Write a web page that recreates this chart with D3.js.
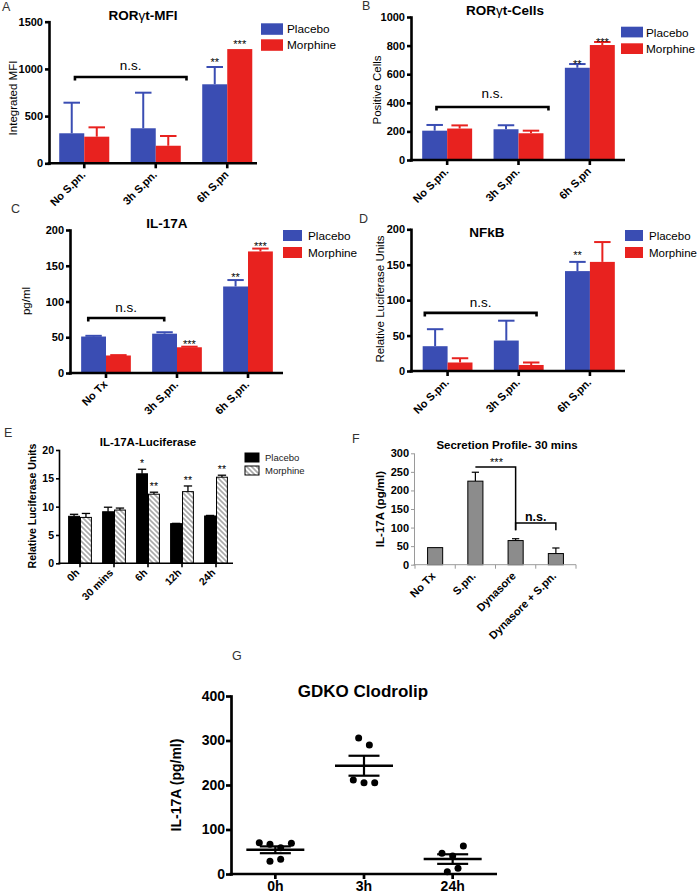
<!DOCTYPE html>
<html><head><meta charset="utf-8">
<script src="https://cdn.jsdelivr.net/npm/d3@7"></script>
<style>body{margin:0;background:#fff}svg{display:block}</style>
</head><body><svg id="fig" width="700" height="895"></svg>
<script>
// ---------------- DATA ----------------
const catsA = ["No S.pn.", "3h S.pn.", "6h S.pn"];
const placeboA = [318, 371, 837];
const placeboErrA = [324, 377, 183];
const morphineA = [282, 186, 1210];
const morphineErrA = [99, 103, 0];
const starsPlaceboA = ["", "", "**"];
const starsMorphineA = ["", "", "***"];
const ticksA = [0, 500, 1000, 1500];

const catsB = ["No S.pn.", "3h S.pn.", "6h S.pn"];
const placeboB = [205, 215, 645];
const placeboErrB = [40, 28, 26];
const morphineB = [220, 187, 804];
const morphineErrB = [22, 18, 21];
const starsPlaceboB = ["", "", "**"];
const starsMorphineB = ["", "", "***"];
const ticksB = [0, 200, 400, 600, 800, 1000];

const catsC = ["No Tx", "3h S.pn.", "6h S.pn."];
const placeboC = [51, 55, 121];
const placeboErrC = [1, 2, 9];
const morphineC = [24.5, 36, 170];
const morphineErrC = [0.5, 0.8, 4];
const starsPlaceboC = ["", "", "**"];
const starsMorphineC = ["", "***", "***"];
const ticksC = [0, 50, 100, 150, 200];

const catsD = ["No S.pn.", "3h S.pn.", "6h S.pn."];
const placeboD = [35, 43, 141];
const placeboErrD = [24, 28, 13];
const morphineD = [12, 8.5, 154];
const morphineErrD = [6, 3.5, 28];
const starsPlaceboD = ["", "", "**"];
const starsMorphineD = ["", "", ""];
const ticksD = [0, 50, 100, 150, 200];

const catsE = ["0h", "30 mins", "6h", "12h", "24h"];
const placeboE = [8.3, 9.1, 15.8, 7.0, 8.35];
const placeboErrE = [0.35, 0.8, 0.8, 0.05, 0.1];
const morphineE = [8.1, 9.4, 12.2, 12.65, 15.2];
const morphineErrE = [0.7, 0.35, 0.35, 1.0, 0.35];
const starsPlaceboE = ["", "", "*", "", ""];
const starsMorphineE = ["", "", "**", "**", "**"];
const ticksE = [0, 5, 10, 15, 20];

const catsF = ["No Tx", "S.pn.", "Dynasore", "Dynasore + S.pn."];
const valuesF = [46, 225, 65, 30];
const errF = [0, 24, 5, 15];
const ticksF = [0, 50, 100, 150, 200, 250, 300];

const catsG = ["0h", "3h", "24h"];
const pointsG0h = [70, 67, 59, 69, 28.5, 33];
const pointsG3h = [305.6, 290, 211, 205, 205];
const pointsG24h = [46.4, 40.4, 63, 5.2, 12.7];
const ticksG = [0, 100, 200, 300, 400];

const seriesNames = ["Placebo", "Morphine"];

// ---------------- DRAWING ----------------
const FONT = '"Liberation Sans", Arial, Helvetica, sans-serif';
const BLUE = "#3a4db3", RED = "#e8221f";
const svg = d3.select("#fig").attr("font-family", FONT);

const defs = svg.append("defs");
const pat = defs.append("pattern").attr("id", "hatch").attr("patternUnits", "userSpaceOnUse")
  .attr("width", 5).attr("height", 5);
pat.append("rect").attr("width", 5).attr("height", 5).attr("fill", "#fff");
pat.append("path").attr("d", "M-1,-1L6,6M-1,4L1,6M4,-1L6,1").attr("stroke", "#a9a9a9").attr("stroke-width", 1.6);

function txt(g, x, y, s, o = {}) {
  const t = g.append("text").attr("x", x).attr("y", y)
    .attr("font-size", o.size || 12).attr("font-weight", o.bold ? "bold" : "normal")
    .attr("text-anchor", o.anchor || "start").attr("fill", o.fill || "#000");
  if (s.includes("γ")) {
    const parts = s.split("γ");
    t.append("tspan").text(parts[0]);
    t.append("tspan").attr("font-weight", "normal").text("γ");
    t.append("tspan").text(parts[1]);
  } else t.text(s);
  if (o.rotate) t.attr("transform", `rotate(${o.rotate},${x},${y})`);
  return t;
}

function barPanel(o) {
  const g = svg.append("g");
  const x = d3.scaleBand().domain(o.cats).range(o.band).paddingInner(o.pad).paddingOuter(o.pad / 2);
  const x1 = d3.scaleBand().domain(d3.range(o.series.length)).range([0, x.bandwidth()]);
  const y = d3.scaleLinear().domain([0, o.max]).range([o.y0, o.y1]);
  const bw = x1.bandwidth();

  o.series.forEach((s, si) => {
    const rows = o.cats.map((c, i) => ({ c, v: s.values[i], e: s.errs[i], star: s.stars ? s.stars[i] : "" }));
    const sg = g.append("g");
    const withErr = rows.filter(d => d.e > 0);
    sg.selectAll("line.eb").data(withErr).join("line").attr("class", "eb")
      .attr("x1", d => x(d.c) + x1(si) + bw / 2).attr("x2", d => x(d.c) + x1(si) + bw / 2)
      .attr("y1", d => y(d.v)).attr("y2", d => y(d.v + d.e))
      .attr("stroke", s.errColor).attr("stroke-width", o.ebw);
    sg.selectAll("line.cap").data(withErr).join("line").attr("class", "cap")
      .attr("x1", d => x(d.c) + x1(si) + bw / 2 - bw * o.cap / 2)
      .attr("x2", d => x(d.c) + x1(si) + bw / 2 + bw * o.cap / 2)
      .attr("y1", d => y(d.v + d.e)).attr("y2", d => y(d.v + d.e))
      .attr("stroke", s.errColor).attr("stroke-width", o.ebw);
    sg.selectAll("rect").data(rows).join("rect")
      .attr("x", d => x(d.c) + x1(si) + (s.stroke ? 0.5 : 0)).attr("y", d => y(d.v))
      .attr("width", bw - (s.stroke ? 1 : 0)).attr("height", d => y(0) - y(d.v))
      .attr("fill", s.fill).attr("stroke", s.stroke || "none").attr("stroke-width", s.stroke ? 1 : 0);
    sg.selectAll("text").data(rows.filter(d => d.star)).join("text")
      .attr("x", d => x(d.c) + x1(si) + bw / 2).attr("y", d => y(d.v + d.e) + (o.starDy || 0))
      .attr("text-anchor", "middle").attr("font-size", o.starSize).attr("fill", "#000").text(d => d.star);
  });

  const ya = g.append("g").attr("transform", `translate(${o.axisX},0)`)
    .call(d3.axisLeft(y).tickValues(o.ticks).tickSize(o.tickLen).tickSizeOuter(0).tickPadding(o.tickPad).tickFormat(d3.format("d")));
  ya.attr("font-family", FONT).attr("font-size", o.tickFont).attr("font-weight", "bold");
  ya.select(".domain").attr("stroke", o.axisColor).attr("stroke-width", o.lw).attr("stroke-linecap", "square");
  ya.selectAll(".tick line").attr("stroke", o.axisColor).attr("stroke-width", o.lw);
  ya.selectAll(".tick text").attr("fill", "#000");
  const xa = g.append("g").attr("transform", `translate(0,${o.y0})`)
    .call(d3.axisBottom(x).tickSize(o.xTickLen).tickSizeOuter(0));
  xa.attr("font-family", FONT).attr("font-size", o.xFont).attr("font-weight", "bold");
  xa.select(".domain").remove();
  xa.append("line").attr("x1", o.axisX - o.lw / 2).attr("x2", o.axisEnd).attr("y1", 0).attr("y2", 0)
    .attr("stroke", o.axisColor).attr("stroke-width", o.lw);
  if (o.boundaryTicks) {
    xa.selectAll(".tick line").remove();
    xa.selectAll("line.bt").data(d3.range(o.cats.length + 1)).join("line").attr("class", "bt")
      .attr("x1", i => o.band[0] + i * x.step()).attr("x2", i => o.band[0] + i * x.step())
      .attr("y1", 0).attr("y2", o.xTickLen).attr("stroke", o.axisColor).attr("stroke-width", o.lw);
  } else {
    xa.selectAll(".tick line").attr("stroke", o.axisColor).attr("stroke-width", o.lw);
  }
  xa.selectAll(".tick text").attr("x", 0).attr("y", 0).attr("dy", 0).attr("fill", "#000")
    .attr("text-anchor", "end").attr("transform", `translate(${o.lx},${o.ly}) rotate(-45)`);

  txt(g, o.title[0], o.title[1], o.title[2], { size: o.title[3], bold: true, anchor: "middle" });
  txt(g, o.ylab[0], o.ylab[1], o.ylab[2], { size: o.ylab[3], bold: o.ylab[4], anchor: "middle", rotate: -90 });
  txt(g, o.letter[0], o.letter[1], o.letter[2], { size: 12.5, fill: "#333" });

  if (o.legend) {
    const L = o.legend;
    o.series.forEach((s, si) => {
      g.append("rect").attr("x", L.x).attr("y", L.y + si * L.dy).attr("width", L.w).attr("height", L.h)
        .attr("fill", s.fill).attr("stroke", s.stroke || "none").attr("stroke-width", s.stroke ? 1 : 0);
      txt(g, L.x + L.w + L.gap, L.y + si * L.dy + L.tdy, seriesNames[si], { size: L.size, fill: L.color || "#000" });
    });
  }
  return { g, x, y };
}

function nsBracket(p, o, from, to, value, label, lw, dyText, size) {
  const pos = i => o.band[0] + (i + 0.5) * p.x.step();
  const yy = p.y(value), xa = pos(from), xb = pos(to);
  p.g.append("path").attr("d", `M${xa},${yy + 3.5}V${yy}H${xb}V${yy + 3.5}`)
    .attr("fill", "none").attr("stroke", "#000").attr("stroke-width", lw);
  txt(p.g, (xa + xb) / 2, yy - dyText, label, { size, anchor: "middle" });
}

const common = { pad: 0.3, lw: 2.6, axisColor: "#000", tickLen: 4, tickPad: 2, tickFont: 11, xFont: 11, xTickLen: 5,
  lx: 2, ly: 12, ebw: 2, cap: 0.66, starSize: 11 };

// Panel A
const oA = Object.assign({}, common, {
  cats: catsA, max: 1500, ticks: ticksA, band: [48.5, 263], axisX: 49, axisEnd: 257, y0: 163.3, y1: 21.7,
  series: [
    { values: placeboA, errs: placeboErrA, stars: starsPlaceboA, fill: BLUE, errColor: BLUE },
    { values: morphineA, errs: morphineErrA, stars: starsMorphineA, fill: RED, errColor: RED }],
  starDy: -1,
  title: [143, 19.5, "RORγt-MFI", 13.5], ylab: [17, 98, "Integrated MFI", 11.5, false], letter: [2, 11, "A"],
  legend: { x: 261, y: 23.3, w: 22, h: 11.5, dy: 16, gap: 4, tdy: 10, size: 11.8 }
});
const pA = barPanel(oA);
nsBracket(pA, oA, -0.13, 1.43, 914, "n.s.", 2.6, 7, 13.5);

// Panel B
const oB = Object.assign({}, common, {
  cats: catsB, max: 1000, ticks: ticksB, band: [411.5, 625.5], axisX: 411, axisEnd: 625, y0: 160, y1: 17,
  series: [
    { values: placeboB, errs: placeboErrB, stars: starsPlaceboB, fill: BLUE, errColor: BLUE },
    { values: morphineB, errs: morphineErrB, stars: starsMorphineB, fill: RED, errColor: RED }],
  starDy: 4,
  title: [505, 14.5, "RORγt-Cells", 13.5], ylab: [381, 90, "Positive Cells", 11.5, false], letter: [362, 10, "B"],
  legend: { x: 621, y: 26.7, w: 22, h: 10.7, dy: 16.6, gap: 3, tdy: 10, size: 11.8 }
});
const pB = barPanel(oB);
nsBracket(pB, oB, -0.15, 1.42, 371, "n.s.", 2.6, 9, 13.5);

// Panel C
const oC = Object.assign({}, common, {
  cats: catsC, max: 200, ticks: ticksC, band: [70.5, 283.5], axisX: 70, axisEnd: 283, y0: 373, y1: 230,
  series: [
    { values: placeboC, errs: placeboErrC, stars: starsPlaceboC, fill: BLUE, errColor: BLUE },
    { values: morphineC, errs: morphineErrC, stars: starsMorphineC, fill: RED, errColor: RED }],
  starDy: 1,
  title: [167, 228, "IL-17A", 13.5], ylab: [30, 301, "pg/ml", 11.5, false], letter: [11, 213, "C"],
  legend: { x: 283, y: 230, w: 19, h: 11, dy: 17, gap: 6, tdy: 10, size: 11.8 }
});
const pC = barPanel(oC);
nsBracket(pC, oC, -0.25, 0.82, 77, "n.s.", 2.6, 6, 13.5);

// Panel D
const oD = Object.assign({}, common, {
  cats: catsD, max: 200, ticks: ticksD, band: [412, 625.5], axisX: 411, axisEnd: 625, y0: 371, y1: 229.3,
  series: [
    { values: placeboD, errs: placeboErrD, stars: starsPlaceboD, fill: BLUE, errColor: BLUE },
    { values: morphineD, errs: morphineErrD, stars: starsMorphineD, fill: RED, errColor: RED }],
  starDy: -3,
  title: [487, 237, "NFkB", 13.5], ylab: [384, 299, "Relative Luciferase Units", 11.5, false], letter: [359, 223, "D"],
  legend: { x: 625, y: 230, w: 18, h: 11, dy: 17, gap: 6, tdy: 10, size: 11.5 }
});
const pD = barPanel(oD);
nsBracket(pD, oD, -0.32, 1.25, 82, "n.s.", 2.6, 6, 13.5);

// Panel E
const oE = Object.assign({}, common, {
  cats: catsE, max: 20, ticks: ticksE, band: [63, 233], axisX: 59, axisEnd: 233, y0: 563.3, y1: 450,
  pad: 0.3, lw: 1.6, tickLen: 3, tickPad: 2, tickFont: 10.5, xFont: 10.5, xTickLen: 4, lx: 0, ly: 10,
  ebw: 1.3, cap: 0.7, starSize: 10.5, starDy: -2,
  series: [
    { values: placeboE, errs: placeboErrE, stars: starsPlaceboE, fill: "#000", stroke: "#000", errColor: "#000" },
    { values: morphineE, errs: morphineErrE, stars: starsMorphineE, fill: "url(#hatch)", stroke: "#000", errColor: "#000" }],
  title: [148, 446, "IL-17A-Luciferase", 11.5], ylab: [36, 506, "Relative Luciferase Units", 10.5, true], letter: [4, 437, "E"],
  legend: { x: 245, y: 453, w: 14, h: 9, dy: 13, gap: 6, tdy: 8, size: 9.5, color: "#222" }
});
barPanel(oE);

// Panel F
const oF = Object.assign({}, common, {
  cats: catsF, max: 300, ticks: ticksF, band: [415, 576], axisX: 414, axisEnd: 576, y0: 564.7, y1: 453.3,
  pad: 0.6, lw: 1, axisColor: "#9a9a9a", tickLen: 3, tickPad: 2, tickFont: 11, xFont: 11, xTickLen: 4,
  boundaryTicks: true, lx: 1, ly: 12, ebw: 1.2, cap: 0.45, starSize: 11,
  series: [{ values: valuesF, errs: errF, fill: "#8c8c8c", stroke: "#000", errColor: "#000" }],
  title: [507, 449, "Secretion Profile- 30 mins", 11.5], ylab: [384, 509, "IL-17A (pg/ml)", 11.5, true], letter: [352, 443, "F"]
});
const pF = barPanel(oF);
{
  const pos = i => oF.band[0] + (i + 0.5) * pF.x.step();
  const y = pF.y;
  pF.g.append("path").attr("d", `M${pos(1)},${y(263)}H${pos(2)}V${y(93)}`)
    .attr("fill", "none").attr("stroke", "#000").attr("stroke-width", 1.5);
  pF.g.append("path").attr("d", `M${pos(2)},${y(93)}V${y(112)}H${pos(3)}V${y(93)}`)
    .attr("fill", "none").attr("stroke", "#000").attr("stroke-width", 1.5);
  txt(pF.g, (pos(1) + pos(2)) / 2 + 1, y(263) - 1, "***", { size: 11, anchor: "middle" });
  txt(pF.g, (pos(2) + pos(3)) / 2, y(112) - 2, "n.s.", { size: 12.5, bold: true, anchor: "middle" });
}

// Panel G
{
  const g = svg.append("g");
  const x = d3.scaleBand().domain(catsG).range([231, 497]);
  const y = d3.scaleLinear().domain([0, 400]).range([874, 696]);
  const groups = [pointsG0h, pointsG3h, pointsG24h];
  function swarm(vals, thresh) {
    const idx = vals.map((v, i) => i).sort((a, b) => vals[a] - vals[b]);
    const rows = []; let cur = null;
    idx.forEach(i => { if (!cur || vals[i] - vals[cur[0]] > thresh) { cur = [i]; rows.push(cur); } else cur.push(i); });
    const off = new Array(vals.length);
    rows.forEach(r => { r.sort((a, b) => a - b); r.forEach((i, k) => off[i] = k - (r.length - 1) / 2); });
    return off;
  }
  groups.forEach((vals, gi) => {
    const cx = x(catsG[gi]) + x.bandwidth() / 2;
    const off = swarm(vals, 25);
    const m = d3.mean(vals), sem = d3.deviation(vals) / Math.sqrt(vals.length);
    g.selectAll(null).data(vals).join("circle")
      .attr("cx", (d, i) => cx + off[i] * 10.7).attr("cy", d => y(d)).attr("r", 3.5).attr("fill", "#000");
    g.append("line").attr("x1", cx - 29).attr("x2", cx + 29).attr("y1", y(m)).attr("y2", y(m)).attr("stroke", "#000").attr("stroke-width", 2.6);
    g.append("line").attr("x1", cx - 15.5).attr("x2", cx + 15.5).attr("y1", y(m + sem)).attr("y2", y(m + sem)).attr("stroke", "#000").attr("stroke-width", 2.2);
    g.append("line").attr("x1", cx - 15.5).attr("x2", cx + 15.5).attr("y1", y(m - sem)).attr("y2", y(m - sem)).attr("stroke", "#000").attr("stroke-width", 2.2);
    g.append("line").attr("x1", cx).attr("x2", cx).attr("y1", y(m + sem)).attr("y2", y(m - sem)).attr("stroke", "#000").attr("stroke-width", 2.2);
  });
  const ya = g.append("g").attr("transform", "translate(231,0)")
    .call(d3.axisLeft(y).tickValues(ticksG).tickSize(5).tickSizeOuter(0).tickPadding(1));
  ya.attr("font-family", FONT).attr("font-size", 14).attr("font-weight", "bold");
  ya.select(".domain").attr("stroke", "#000").attr("stroke-width", 2.7).attr("stroke-linecap", "square");
  ya.selectAll(".tick line").attr("stroke", "#000").attr("stroke-width", 2.7);
  ya.selectAll(".tick text").attr("fill", "#000");
  const xa = g.append("g").attr("transform", "translate(0,874)")
    .call(d3.axisBottom(x).tickSize(5).tickSizeOuter(0).tickPadding(2));
  xa.attr("font-family", FONT).attr("font-size", 14).attr("font-weight", "bold");
  xa.select(".domain").remove();
  xa.append("line").attr("x1", 229.6).attr("x2", 497).attr("stroke", "#000").attr("stroke-width", 2.7);
  xa.selectAll(".tick line").attr("stroke", "#000").attr("stroke-width", 2.7);
  xa.selectAll(".tick text").attr("fill", "#000").attr("dy", "0.72em");
  txt(g, 363, 697, "GDKO Clodrolip", { size: 17, bold: true, anchor: "middle" });
  txt(g, 181, 785, "IL-17A (pg/ml)", { size: 14, bold: true, anchor: "middle", rotate: -90 });
  txt(g, 232, 660, "G", { size: 12.5, fill: "#333" });
}
</script></body></html>
